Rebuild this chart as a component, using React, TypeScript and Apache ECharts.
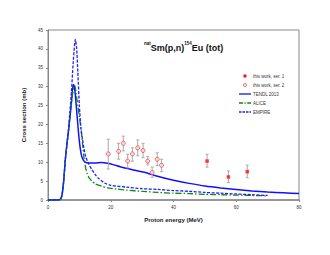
import React, { useEffect, useRef } from "react";
import * as echarts from "echarts";

const xTicks = [0, 20, 40, 60, 80];
const yTicks = [0, 5, 10, 15, 20, 25, 30, 35, 40, 45];

// [energy, cross section, err low, err high]
const ser1: number[][] = [
  [50.7, 10.3, 8.7, 12.1],
  [57.5, 6.1, 4.6, 7.7],
  [63.5, 7.5, 5.9, 9.2],
];
const ser2: number[][] = [
  [19.2, 12.2, 8.2, 16.1],
  [22.5, 12.9, 10.8, 15.0],
  [24.0, 15.0, 13.0, 16.9],
  [25.4, 10.3, 8.5, 12.1],
  [26.9, 12.2, 10.3, 13.8],
  [28.6, 13.8, 11.7, 15.9],
  [30.3, 13.1, 11.2, 15.0],
  [31.8, 10.3, 9.3, 11.5],
  [33.2, 7.3, 6.0, 8.7],
  [34.8, 10.8, 9.1, 12.5],
  [36.2, 9.2, 7.5, 10.8],
];
const tendl: number[][] = [
  [0, 0], [3, 0], [4, 0.2], [4.5, 1.5], [5, 5], [5.5, 10.5], [6, 14.5], [6.5, 18],
  [7, 22], [7.5, 26], [8, 30.5], [8.3, 30.3], [8.7, 28], [9, 25], [9.5, 20], [10, 15.5],
  [10.5, 12.5], [11, 11], [11.8, 10], [13, 9.8], [15, 9.8], [17, 9.9], [19, 9.7],
  [21, 9.3], [23, 8.8], [25, 8.4], [28, 7.8], [31, 7.3], [34, 6.5], [37, 5.8],
  [40, 5.2], [45, 4.4], [50, 3.7], [55, 3.2], [60, 2.8], [65, 2.4], [70, 2.1],
  [75, 1.9], [80, 1.7],
];
const alice: number[][] = [
  [0, 0], [3, 0], [4, 0.2], [4.5, 1.5], [5, 5], [5.5, 10.5], [6, 14.5], [6.5, 18],
  [7, 22], [7.5, 26], [8.2, 29.8], [8.6, 30.2], [9, 28], [9.5, 25], [10, 22],
  [10.5, 19], [11, 15], [11.5, 11], [12, 8.5], [12.5, 7], [13, 6], [14, 5], [15, 4.3],
  [17, 3.7], [19, 3.2], [22, 2.9], [25, 2.6], [30, 2.3], [35, 2.0], [40, 1.8],
  [45, 1.7], [50, 1.5], [55, 1.4], [60, 1.3], [65, 1.2], [70, 1.1],
];
const empire: number[][] = [
  [0, 0], [3, 0], [4, 0.2], [4.5, 1.5], [5, 5], [5.5, 10.5], [6, 14.5], [6.5, 18.5],
  [7, 23.5], [7.5, 29], [8, 36], [8.7, 42.5], [9.1, 40.5], [9.5, 34], [10, 25],
  [10.5, 19], [11, 16], [11.5, 13.5], [12, 11.5], [13, 9.5], [14, 8], [15, 6.8],
  [16, 5.8], [17, 5.1], [18, 4.5], [20, 3.9], [25, 3.4], [30, 3.0], [35, 2.8],
  [40, 2.5], [45, 2.3], [50, 2.0], [55, 1.8], [60, 1.6], [65, 1.4], [70, 1.2],
];
const legendNames = ["this work, ser. 1", "this work, ser. 2", "TENDL 2013", "ALICE", "EMPIRE"];

const FONT = "Liberation Sans, Arial, sans-serif";
const BLUE = "#1010ff";
const BLUE2 = "#2020ff";
const GREEN = "#118811";
const RED = "#ff1010";

function errBars(name: string, data: number[][]) {
  return {
    type: "custom",
    name: name + "_err",
    silent: true,
    z: 3,
    data: data.map((d) => [d[0], d[2], d[3]]),
    renderItem: (params: any, api: any) => {
      const x = api.value(0);
      const lo = api.coord([x, api.value(1)]);
      const hi = api.coord([x, api.value(2)]);
      const cap = 1.5;
      const style = { stroke: "#aaaaaa", lineWidth: 1 };
      return {
        type: "group",
        children: [
          { type: "line", shape: { x1: lo[0], y1: lo[1], x2: hi[0], y2: hi[1] }, style },
          { type: "line", shape: { x1: lo[0] - cap, y1: lo[1], x2: lo[0] + cap, y2: lo[1] }, style },
          { type: "line", shape: { x1: hi[0] - cap, y1: hi[1], x2: hi[0] + cap, y2: hi[1] }, style },
        ],
      };
    },
  };
}

function legendGraphics() {
  const x0 = 239, x1 = 251, tx = 253, y0 = 76, dy = 9;
  const els: any[] = [];
  legendNames.forEach((name, i) => {
    const y = y0 + i * dy;
    if (i === 0) {
      els.push({ type: "rect", shape: { x: 243.5, y: y - 1.5, width: 3, height: 3 }, style: { fill: RED } });
    } else if (i === 1) {
      els.push({ type: "circle", shape: { cx: 245, cy: y, r: 1.6 }, style: { fill: "#ffe0e0", stroke: "#ee4444", lineWidth: 0.8 } });
    } else {
      const stroke = i === 2 ? BLUE : i === 3 ? GREEN : BLUE2;
      const lineDash = i === 2 ? null : i === 3 ? [4, 1.5, 1.2, 1.5] : [2.5, 1];
      els.push({ type: "line", shape: { x1: x0, y1: y, x2: x1, y2: y }, style: { stroke, lineWidth: 1.3, lineDash } });
    }
    els.push({
      type: "text", x: tx, y,
      style: { text: name, fontSize: 4.5, fill: "#333", fontFamily: FONT, verticalAlign: "middle", align: "left" },
    });
  });
  return els;
}

export default function App() {
  const ref = useRef<HTMLDivElement>(null);
  useEffect(() => {
    if (!ref.current) return;
    const chart = echarts.init(ref.current, null, { renderer: "svg" });
    chart.setOption({
      animation: false,
      backgroundColor: "#ffffff",
      textStyle: { fontFamily: FONT },
      grid: {
        left: 48, right: 31, top: 30, bottom: 55,
        show: true, borderColor: "#888888", borderWidth: 1,
      },
      xAxis: {
        type: "value", min: xTicks[0], max: xTicks[xTicks.length - 1], interval: 20,
        name: "Proton energy (MeV)", nameLocation: "middle", nameGap: 17,
        nameTextStyle: { fontSize: 6, fontWeight: "bold", color: "#222", fontFamily: FONT },
        axisLine: { lineStyle: { color: "#888888", width: 1.5 } },
        axisTick: { show: true, length: 2, lineStyle: { color: "#888888" } },
        axisLabel: { fontSize: 4.5, color: "#333", margin: 5, fontFamily: FONT },
        splitLine: { show: false },
      },
      yAxis: {
        type: "value", min: yTicks[0], max: yTicks[yTicks.length - 1], interval: 5,
        name: "Cross section (mb)", nameLocation: "middle", nameGap: 19,
        nameTextStyle: { fontSize: 6, fontWeight: "bold", color: "#222", fontFamily: FONT },
        axisLine: { show: true, lineStyle: { color: "#888888", width: 1 } },
        axisTick: { show: true, length: 2, lineStyle: { color: "#888888" } },
        axisLabel: { fontSize: 4.5, color: "#333", margin: 5, fontFamily: FONT },
        splitLine: { show: false },
      },
      graphic: [
        {
          type: "text", left: 144, top: 41,
          style: {
            text: "{s|nat}{b|Sm(p,n)}{s|154}{b|Eu (tot)}",
            fontFamily: FONT,
            rich: {
              b: { fontSize: 9, fontWeight: "bold", fill: "#111", fontFamily: FONT, verticalAlign: "bottom", lineHeight: 11 },
              s: { fontSize: 4.5, fontWeight: "bold", fill: "#111", fontFamily: FONT, verticalAlign: "top", lineHeight: 11, padding: [0, 0, 5, 0] },
            },
          },
        },
        ...legendGraphics(),
      ],
      series: [
        {
          type: "line", name: "TENDL 2013", data: tendl, showSymbol: false, symbol: "none",
          smooth: 0.2, lineStyle: { color: BLUE, width: 1.5 }, itemStyle: { color: BLUE }, z: 2,
        },
        {
          type: "line", name: "ALICE", data: alice, showSymbol: false, symbol: "none",
          smooth: 0.2, lineStyle: { color: GREEN, width: 1.3, type: [6, 2, 1.5, 2] },
          itemStyle: { color: GREEN }, z: 2,
        },
        {
          type: "line", name: "EMPIRE", data: empire, showSymbol: false, symbol: "none",
          smooth: 0.2, lineStyle: { color: BLUE2, width: 1.3, type: [3, 1.5] },
          itemStyle: { color: BLUE2 }, z: 2,
        },
        errBars("ser1", ser1),
        errBars("ser2", ser2),
        {
          type: "scatter", name: "this work, ser. 1", data: ser1.map((d) => [d[0], d[1]]),
          symbol: "rect", symbolSize: 3.5, itemStyle: { color: RED }, z: 5,
        },
        {
          type: "scatter", name: "this work, ser. 2", data: ser2.map((d) => [d[0], d[1]]),
          symbol: "circle", symbolSize: 4,
          itemStyle: { color: "#ffe0e0", borderColor: "#ee4444", borderWidth: 1 }, z: 5,
        },
      ],
    });
    return () => chart.dispose();
  }, []);
  return (
    <div
      ref={ref}
      style={{ width: 330, height: 255, position: "fixed", left: 0, top: 0 }}
    />
  );
}
